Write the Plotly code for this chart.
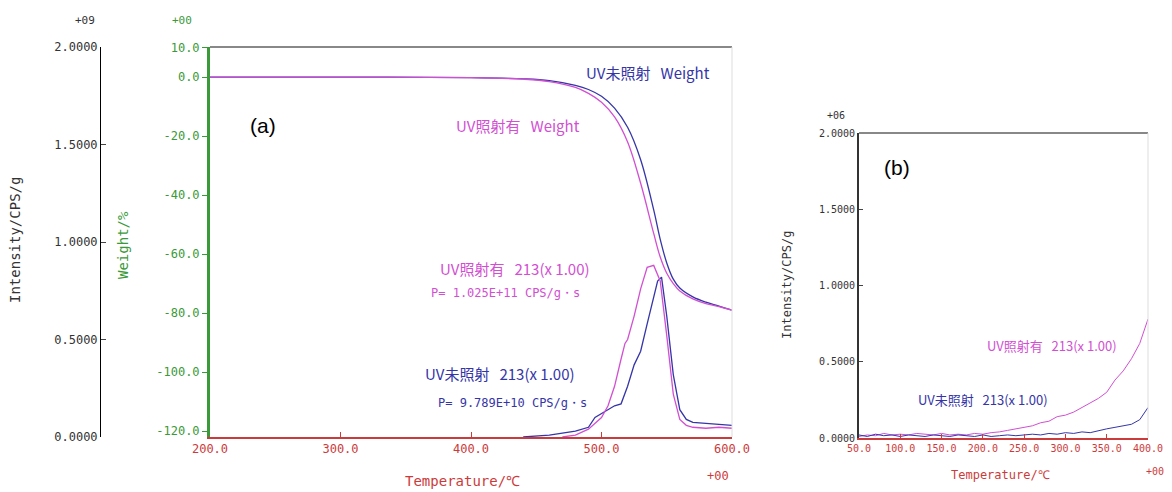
import plotly.graph_objects as go

BLUE = "#3535a8"
MAG = "#d24fd2"
GREEN = "#3a9a3a"
RED = "#cc3b3b"
MONO = "DejaVu Sans Mono"
CJK = "Noto Sans CJK JP"
W, H, OFF = 1172, 492, 8  # page body margin shifts the figure by 8px

# ---- panel (a): TG weight (%) ----
temp_w = [200, 300, 400, 440, 460, 480, 490, 500, 510, 520, 530, 540, 545, 550, 555, 560, 570, 580, 590, 600]
w_uv_off = [0.0, 0.0, -0.2, -0.6, -1.2, -2.8, -4.2, -6.5, -10.5, -17, -28, -45, -55, -63, -68.5, -71.5, -74.5, -76.3, -77.6, -79]
w_uv_on = [0.0, 0.0, -0.2, -0.7, -1.5, -3.5, -5.5, -8.5, -13.5, -22, -36, -53, -61, -66.5, -70, -72.5, -75.2, -76.8, -77.8, -79]

# ---- panel (a): m/z 213 intensity (x1e9 CPS/g) ----
temp_i_off = [440, 460, 480, 490, 495, 500, 505, 510, 515, 520, 525, 530, 535, 540, 543, 546, 550, 555, 560, 565, 570, 580, 590, 600]
i_uv_off = [0.0, 0.01, 0.03, 0.05, 0.10, 0.12, 0.14, 0.16, 0.17, 0.26, 0.37, 0.44, 0.58, 0.72, 0.80, 0.82, 0.62, 0.32, 0.14, 0.09, 0.075, 0.07, 0.065, 0.06]
temp_i_on = [470, 480, 490, 500, 505, 510, 515, 518, 520, 525, 530, 535, 540, 545, 550, 555, 560, 565, 570, 580, 590, 600]
i_uv_on = [0.0, 0.01, 0.04, 0.10, 0.16, 0.26, 0.40, 0.48, 0.50, 0.62, 0.76, 0.87, 0.88, 0.80, 0.52, 0.22, 0.09, 0.06, 0.05, 0.045, 0.05, 0.045]

# ---- panel (b): low-temperature region (x1e6 CPS/g) ----
temp_b = [50, 60, 70, 80, 90, 100, 110, 120, 130, 140, 150, 160, 170, 180, 190, 200, 210, 220, 230,
          240, 250, 260, 270, 280, 290, 300, 310, 320, 330, 340, 350, 360, 370, 380, 390, 400]
b_uv_on = [0.01, 0.02, 0.015, 0.03, 0.02, 0.025, 0.02, 0.03, 0.025, 0.02, 0.03, 0.02, 0.025, 0.02, 0.03, 0.025,
           0.035, 0.04, 0.05, 0.06, 0.07, 0.08, 0.10, 0.11, 0.14, 0.15, 0.17, 0.20, 0.23, 0.26, 0.30, 0.38, 0.44, 0.52, 0.62, 0.78]
b_uv_off = [0.02, 0.01, 0.025, 0.015, 0.02, 0.01, 0.02, 0.015, 0.01, 0.02, 0.015, 0.01, 0.02, 0.015, 0.01, 0.02,
            0.01, 0.015, 0.02, 0.015, 0.02, 0.025, 0.02, 0.03, 0.025, 0.035, 0.03, 0.04, 0.035, 0.05, 0.06, 0.07, 0.08, 0.09, 0.12, 0.20]


def px(x):
    return (x - OFF) / W


def py(y):
    return 1 - (y - OFF) / H


fig = go.Figure()
fig.add_trace(go.Scatter(x=temp_w, y=w_uv_off, yaxis="y2", line=dict(color=BLUE, width=1.3, shape="spline")))
fig.add_trace(go.Scatter(x=temp_w, y=w_uv_on, yaxis="y2", line=dict(color=MAG, width=1.3, shape="spline")))
fig.add_trace(go.Scatter(x=temp_i_off, y=i_uv_off, yaxis="y", line=dict(color=BLUE, width=1.3)))
fig.add_trace(go.Scatter(x=temp_i_on, y=i_uv_on, yaxis="y", line=dict(color=MAG, width=1.3)))
fig.add_trace(go.Scatter(x=temp_b, y=b_uv_on, xaxis="x2", yaxis="y3", line=dict(color=MAG, width=1)))
fig.add_trace(go.Scatter(x=temp_b, y=b_uv_off, xaxis="x2", yaxis="y3", line=dict(color=BLUE, width=1)))

tickf = dict(family=MONO, size=12)
fig.update_layout(
    width=W, height=H, showlegend=False, autosize=False,
    paper_bgcolor="white", plot_bgcolor="white",
    margin=dict(l=0, r=0, t=0, b=0, pad=0),
    xaxis=dict(domain=[px(210), px(732)], range=[200, 600], anchor="y2", tickvals=[200, 300, 400, 500, 600],
               ticktext=["200.0", "300.0", "400.0", "500.0", "600.0"], showline=True, linecolor=RED, linewidth=1.5,
               ticks="inside", tickcolor=RED, ticklen=5, tickfont=dict(tickf, color=RED), showgrid=False,
               zeroline=False, automargin=False),
    yaxis=dict(range=[0, 2], domain=[py(437), py(47)], anchor="free", position=px(100), tickvals=[0, 0.5, 1, 1.5, 2],
               ticktext=["0.0000", "0.5000", "1.0000", "1.5000", "2.0000"], showline=True, linecolor="black",
               ticks="inside", ticklen=5, tickfont=dict(tickf, color="#333"), showgrid=False, zeroline=False,
               automargin=False),
    yaxis2=dict(range=[-122, 10.2], overlaying="y", anchor="x", tickvals=[10, 0, -20, -40, -60, -80, -100, -120],
                ticktext=["10.0", "0.0", "-20.0", "-40.0", "-60.0", "-80.0", "-100.0", "-120.0"],
                showline=True, linecolor=GREEN, linewidth=3, ticks="outside", tickcolor=GREEN, ticklen=5,
                tickfont=dict(tickf, color=GREEN), showgrid=False, zeroline=False, automargin=False),
    xaxis2=dict(domain=[px(859), px(1148)], range=[50, 400], anchor="y3", tickvals=list(range(50, 401, 50)),
                ticktext=[f"{v:.1f}" for v in range(50, 401, 50)], showline=True, linecolor=RED, linewidth=1.5,
                ticks="inside", tickcolor=RED, ticklen=4, tickfont=dict(family=MONO, size=10, color=RED),
                showgrid=False, zeroline=False, automargin=False),
    yaxis3=dict(domain=[py(438), py(133)], range=[0, 2], anchor="x2", tickvals=[0, 0.5, 1, 1.5, 2],
                ticktext=["0.0000", "0.5000", "1.0000", "1.5000", "2.0000"], showline=True, linecolor="#333", linewidth=2,
                ticks="inside", ticklen=4, tickfont=dict(family=MONO, size=10, color="#333"), showgrid=False,
                zeroline=False, automargin=False),
)

# plot frames (top gray, right light gray)
for xr, yr in [("x", "y"), ("x2", "y3")]:
    fig.add_shape(type="line", xref=f"{xr} domain", yref=f"{yr} domain", x0=0, x1=1, y0=1, y1=1,
                  line=dict(color="#888", width=2))
    fig.add_shape(type="line", xref=f"{xr} domain", yref=f"{yr} domain", x0=1, x1=1, y0=0, y1=1,
                  line=dict(color="#ddd", width=1))


def note(x, y, text, color, size=14, font=CJK, angle=0):
    fig.add_annotation(x=px(x), y=py(y), xref="paper", yref="paper", text=text, showarrow=False,
                       xanchor="center", yanchor="middle",
                       font=dict(family=font, size=size, color=color), textangle=angle)


SP = "&nbsp;&nbsp;&nbsp;"
note(85, 20, "+09", "#333", 11, MONO)
note(182, 20, "+00", GREEN, 11, MONO)
note(718, 476, "+00", RED, 12, MONO)
note(15, 240, "Intensity/CPS/g", "#333", 14, MONO, -90)
note(123, 245, "Weight/%", GREEN, 14, MONO, -90)
note(462, 481, "Temperature/℃", RED, 14, MONO)
note(263, 125, "(a)", "black", 21, "Liberation Sans")
note(648, 72, "UV未照射" + SP + "Weight", BLUE, 15)
note(518, 125, "UV照射有" + SP + "Weight", MAG, 15)
note(515, 268, "UV照射有" + SP + "213(x 1.00)", MAG, 15)
note(505, 293, "P= 1.025E+11 CPS/g・s", MAG, 12, MONO)
note(500, 373, "UV未照射" + SP + "213(x 1.00)", BLUE, 15)
note(512, 403, "P= 9.789E+10 CPS/g・s", BLUE, 12, MONO)

note(836, 116, "+06", "#333", 10, MONO)
note(787, 285, "Intensity/CPS/g", "#333", 12, MONO, -90)
note(1000, 475, "Temperature/℃", RED, 12, MONO)
note(1155, 471, "+00", RED, 10, MONO)
note(897, 167, "(b)", "black", 21, "Liberation Sans")
note(1052, 345, "UV照射有" + SP + "213(x 1.00)", MAG, 13)
note(983, 399, "UV未照射" + SP + "213(x 1.00)", BLUE, 13)

fig.write_html("out.html")
